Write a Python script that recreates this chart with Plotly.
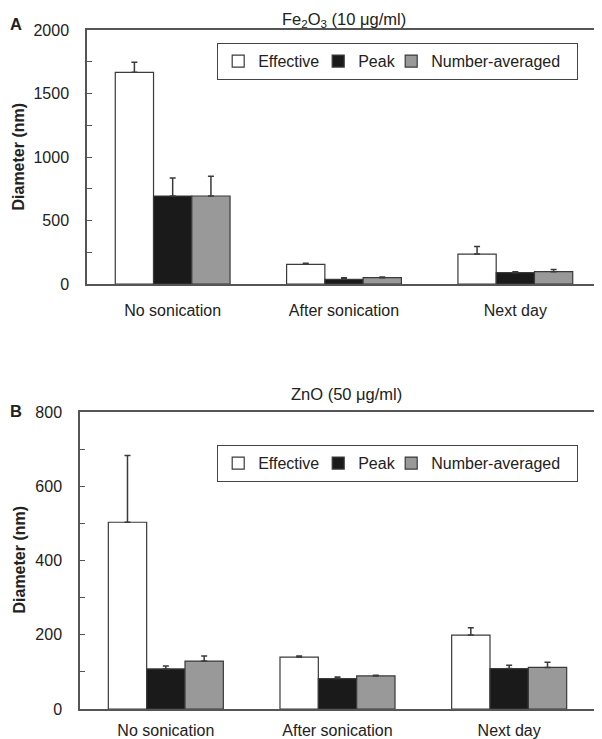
import plotly.graph_objects as go

categories = ["No sonication", "After sonication", "Next day"]
series_names = ["Effective", "Peak", "Number-averaged"]

fe_effective = [1667, 155, 236]
fe_effective_err = [80, 8, 60]
fe_peak = [693, 37, 89]
fe_peak_err = [142, 12, 8]
fe_number = [693, 50, 97]
fe_number_err = [155, 5, 18]

zn_effective = [503, 140, 199]
zn_effective_err = [180, 3, 20]
zn_peak = [108, 82, 109]
zn_peak_err = [8, 4, 9]
zn_number = [129, 89, 112]
zn_number_err = [14, 2, 14]

fe_ticks = [0, 500, 1000, 1500, 2000]
zn_ticks = [0, 200, 400, 600, 800]

W, H = 602, 739
OFF = 8  # page body margin in the browser
FONT = "Liberation Sans, Arial, sans-serif"
TXT = "#222222"
colors = ["#ffffff", "#1a1a1a", "#999999"]
legend_widths = [55, 28, 140]
edge = "#3a3a3a"

fig = go.Figure()

def add_panel(vals, errs, xa, ya, legend):
    for name, v, e, c, lw in zip(series_names, vals, errs, colors, legend_widths):
        fig.add_trace(go.Bar(
            x=categories, y=v, name=name, xaxis=xa, yaxis=ya, legend=legend,
            legendwidth=lw,
            marker=dict(color=c, line=dict(color=edge, width=1.2)),
            error_y=dict(type="data", array=e, arrayminus=[0] * len(e), symmetric=False,
                         color=edge, thickness=1.5, width=3),
        ))

add_panel([fe_effective, fe_peak, fe_number], [fe_effective_err, fe_peak_err, fe_number_err], "x", "y", "legend")
add_panel([zn_effective, zn_peak, zn_number], [zn_effective_err, zn_peak_err, zn_number_err], "x2", "y2", "legend2")

def px_x(p):
    return (p - OFF) / W

def px_y(p):
    return 1 - (p - OFF) / H

axis_common = dict(showline=True, mirror=True, linecolor="#555555", linewidth=1.5,
                   showgrid=False, zeroline=False, automargin=False,
                   tickfont=dict(family=FONT, size=16, color=TXT))

def afont(size):
    return dict(family=FONT, size=size, color=TXT)

legend_common = dict(orientation="h", xanchor="left", yanchor="top",
                     bgcolor="white", bordercolor="#444444", borderwidth=1.2,
                     font=afont(16))

fig.update_layout(
    width=W, height=H, margin=dict(l=0, r=0, t=0, b=0, autoexpand=False),
    paper_bgcolor="white", plot_bgcolor="white",
    barmode="group", bargap=0.33, bargroupgap=0,
    font=dict(family=FONT, size=16, color=TXT),
    xaxis=dict(domain=[px_x(87), px_x(601)], anchor="y", ticks="", ticklabelstandoff=11, **axis_common),
    yaxis=dict(domain=[px_y(284), px_y(30)], anchor="x", range=[0, 2000],
               tickvals=fe_ticks, ticks="inside", ticklen=5, tickcolor="#555555",
               minor=dict(dtick=250, ticks="inside", ticklen=5, tickcolor="#555555"),
               ticklabelstandoff=13, **axis_common),
    xaxis2=dict(domain=[px_x(80), px_x(595)], anchor="y2", ticks="", ticklabelstandoff=6, **axis_common),
    yaxis2=dict(domain=[px_y(709), px_y(412)], anchor="x2", range=[0, 800],
                tickvals=zn_ticks, ticks="inside", ticklen=5, tickcolor="#555555",
                minor=dict(dtick=100, ticks="inside", ticklen=5, tickcolor="#555555"),
                ticklabelstandoff=13, **axis_common),
    legend=dict(x=px_x(217), y=px_y(43), **legend_common),
    legend2=dict(x=px_x(217), y=px_y(445), **legend_common),
    annotations=[
        dict(text="Fe<sub>2</sub>O<sub>3</sub> (10 μg/ml)", x=px_x(344), y=1.0, xref="paper", yref="paper",
             xanchor="center", yanchor="top", showarrow=False, font=afont(16.5)),
        dict(text="ZnO (50 μg/ml)", x=px_x(346), y=px_y(394), xref="paper", yref="paper",
             xanchor="center", yanchor="middle", showarrow=False, font=afont(16.5)),
        dict(text="<b>A</b>", x=0, y=px_y(24), xref="paper", yref="paper", xanchor="left",
             yanchor="middle", showarrow=False, font=afont(16.5)),
        dict(text="<b>B</b>", x=0, y=px_y(411), xref="paper", yref="paper", xanchor="left",
             yanchor="middle", showarrow=False, font=afont(16.5)),
        dict(text="<b>Diameter (nm)</b>", x=0, y=px_y(157), xref="paper", yref="paper",
             xanchor="left", yanchor="middle", textangle=-90, showarrow=False, font=afont(16)),
        dict(text="<b>Diameter (nm)</b>", x=0, y=px_y(560), xref="paper", yref="paper",
             xanchor="left", yanchor="middle", textangle=-90, showarrow=False, font=afont(16)),
    ],
)

fig.write_html("out.html")
